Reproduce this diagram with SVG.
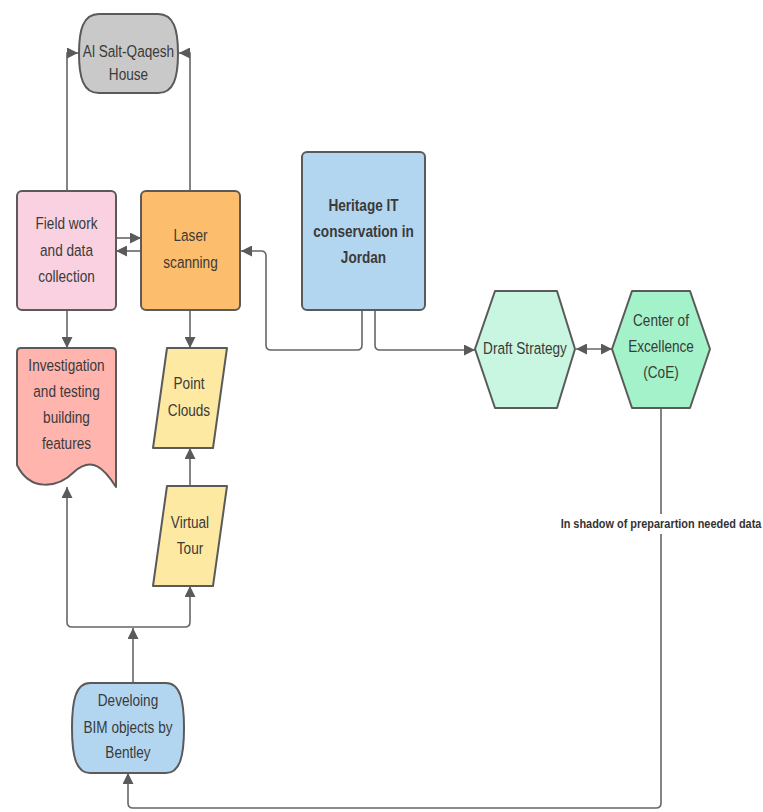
<svg xmlns="http://www.w3.org/2000/svg" width="763" height="812" viewBox="0 0 763 812">
<style>
.n{stroke:#5a5a5a;stroke-width:2;stroke-linejoin:round}
.t{font-family:"Liberation Sans",Arial,sans-serif;font-size:17px;fill:#3a3a3a;text-anchor:middle;dominant-baseline:central}
.b{font-weight:bold}
.c{fill:none;stroke:#666;stroke-width:1.6}
.lbl{font-family:"Liberation Sans",Arial,sans-serif;font-size:13px;font-weight:bold;fill:#333;text-anchor:middle;dominant-baseline:central}
</style>
<defs>
<marker id="ah" viewBox="0 0 10 10" refX="10" refY="5" markerWidth="11" markerHeight="11" markerUnits="userSpaceOnUse" orient="auto-start-reverse">
<path d="M0,0 L10,5 L0,10 Z" fill="#5a5a5a"/>
</marker>
</defs>
<rect width="763" height="812" fill="#fff"/>
<g id="connectors">
<path class="c" d="M67,191 V53 H78" marker-end="url(#ah)"/>
<path class="c" d="M190,191 V53 H179" marker-end="url(#ah)"/>
<path class="c" d="M116,238 H141" marker-end="url(#ah)"/>
<path class="c" d="M141,251 H116" marker-end="url(#ah)"/>
<path class="c" d="M362,310 V345 Q362,350 357,350 H271 Q266,350 266,345 V256 Q266,251 261,251 H241" marker-end="url(#ah)"/>
<path class="c" d="M375,310 V345 Q375,350 380,350 H475" marker-end="url(#ah)"/>
<path class="c" d="M576,349 H612" marker-start="url(#ah)" marker-end="url(#ah)"/>
<path class="c" d="M67,310 V348" marker-end="url(#ah)"/>
<path class="c" d="M190,310 V348" marker-end="url(#ah)"/>
<path class="c" d="M190,486 V448" marker-end="url(#ah)"/>
<path class="c" d="M133,683 V628" marker-end="url(#ah)"/>
<path class="c" d="M133,627 H72 Q67,627 67,622 V487" marker-end="url(#ah)"/>
<path class="c" d="M133,627 H185 Q190,627 190,622 V586" marker-end="url(#ah)"/>
<path class="c" d="M661,408 V803 Q661,808 656,808 H133 Q128,808 128,803 V773" marker-end="url(#ah)"/>
<rect x="558" y="514" width="205" height="20" fill="#fff"/>
<text class="lbl" transform="translate(661 524) scale(0.84 1)">In shadow of preparartion needed data</text>
</g>
<g id="alsalt">
<path class="n" fill="#c9c9c9" d="M99,14 H158 C174,14 178,30 178,53.5 C178,77 174,93 158,93 H99 C83,93 79,77 79,53.5 C79,30 83,14 99,14 Z"/>
<text class="t" transform="translate(128.5 51) scale(0.8 1)">Al Salt-Qaqesh</text>
<text class="t" transform="translate(128.5 74) scale(0.8 1)">House</text>
</g>
<g id="fieldwork">
<rect class="n" x="17" y="191" width="99" height="119" rx="5" fill="#f9d1e0"/>
<text class="t" transform="translate(66.5 223) scale(0.8 1)">Field work</text>
<text class="t" transform="translate(66.5 250) scale(0.8 1)">and data</text>
<text class="t" transform="translate(66.5 276) scale(0.8 1)">collection</text>
</g>
<g id="laser">
<rect class="n" x="141" y="191" width="99" height="119" rx="5" fill="#fcbd6c"/>
<text class="t" transform="translate(190.5 235) scale(0.8 1)">Laser</text>
<text class="t" transform="translate(190.5 262) scale(0.8 1)">scanning</text>
</g>
<g id="heritage">
<rect class="n" x="302" y="152" width="123" height="158" rx="5" fill="#b3d6f0"/>
<text class="t b" transform="translate(363.5 205) scale(0.8 1)">Heritage IT</text>
<text class="t b" transform="translate(363.5 231) scale(0.8 1)">conservation in</text>
<text class="t b" transform="translate(363.5 257) scale(0.8 1)">Jordan</text>
</g>
<g id="draft">
<polygon class="n" fill="#c8f6e0" points="475,349 495,291 557,291 575,349 557,408 495,408"/>
<text class="t" transform="translate(525 348) scale(0.8 1)">Draft Strategy</text>
</g>
<g id="coe">
<polygon class="n" fill="#a4f2c9" points="612,349 632,291 690,291 710,349 690,408 632,408"/>
<text class="t" transform="translate(661 320) scale(0.8 1)">Center of</text>
<text class="t" transform="translate(661 346) scale(0.8 1)">Excellence</text>
<text class="t" transform="translate(661 372) scale(0.8 1)">(CoE)</text>
</g>
<g id="investigation">
<path class="n" fill="#ffb4ae" d="M21,348 H112 Q116,348 116,352 V487 C104,468 92,456 74,472 C58,488 30,492 17,465 V352 Q17,348 21,348 Z"/>
<text class="t" transform="translate(66.5 365) scale(0.8 1)">Investigation</text>
<text class="t" transform="translate(66.5 391) scale(0.8 1)">and testing</text>
<text class="t" transform="translate(66.5 417) scale(0.8 1)">building</text>
<text class="t" transform="translate(66.5 443) scale(0.8 1)">features</text>
</g>
<g id="pointclouds">
<polygon class="n" fill="#fde9a2" points="167,348 227,348 213,448 153,448"/>
<text class="t" transform="translate(189 383) scale(0.8 1)">Point</text>
<text class="t" transform="translate(189 410) scale(0.8 1)">Clouds</text>
</g>
<g id="virtualtour">
<polygon class="n" fill="#fde9a2" points="167,486 227,486 213,586 153,586"/>
<text class="t" transform="translate(190 522) scale(0.8 1)">Virtual</text>
<text class="t" transform="translate(190 548) scale(0.8 1)">Tour</text>
</g>
<g id="bim">
<path class="n" fill="#b3d6f0" d="M90,683 H166 C180,683 184,700 184,728 C184,756 180,773 166,773 H90 C76,773 72,756 72,728 C72,700 76,683 90,683 Z"/>
<text class="t" transform="translate(128 700) scale(0.8 1)">Develoing</text>
<text class="t" transform="translate(128 727) scale(0.8 1)">BIM objects by</text>
<text class="t" transform="translate(128 752) scale(0.8 1)">Bentley</text>
</g>
</svg>
